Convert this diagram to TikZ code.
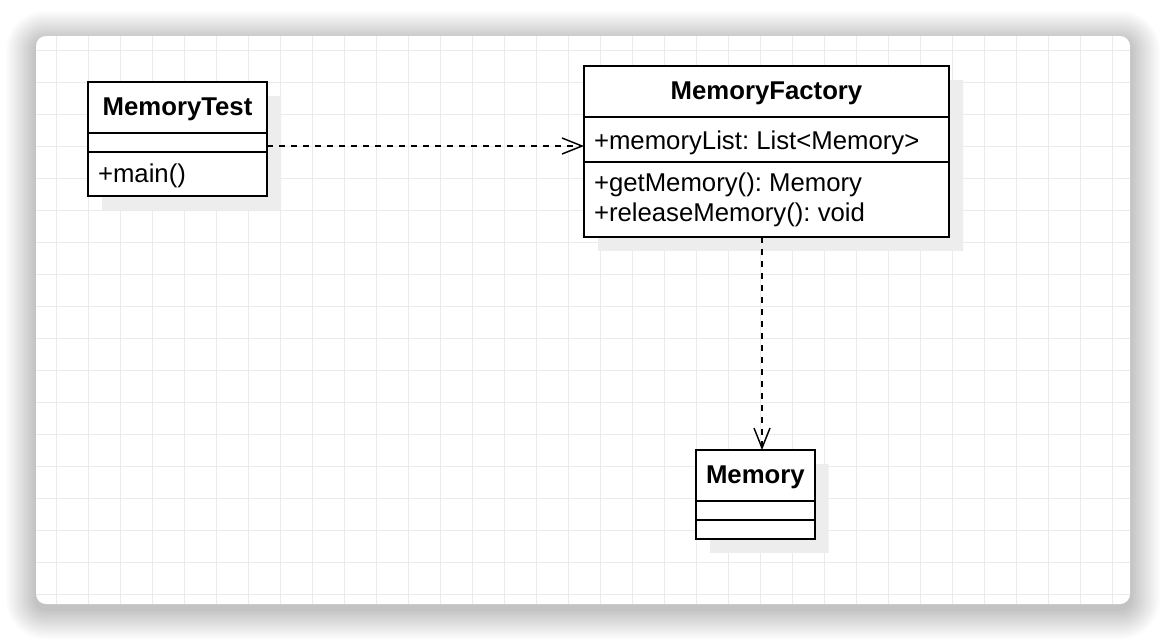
\documentclass[tikz,border=0pt]{standalone}
\usepackage{fontspec}
\setmainfont{Liberation Sans}
\usetikzlibrary{shapes,shadows,arrows.meta}

\newcommand{\classhead}{\rule[-12.56pt]{0pt}{36.56pt}}
\frenchspacing

\begin{document}
\begin{tikzpicture}[x=0.75pt,y=-0.75pt]
  \tikzstyle{umlclass}=[rectangle split, rectangle split parts=3, rectangle split part align={center,left,left},
    draw, fill=white, line width=1.5pt, inner xsep=7.5pt, inner ysep=0pt, outer sep=0pt, anchor=north west,
    font=\fontsize{19.3pt}{22.5pt}\selectfont,
    drop shadow={shadow xshift=10.5pt, shadow yshift=-10.5pt, fill=black!7, opacity=1}]
  \tikzstyle{gridline}=[draw=black!8, line width=0.75pt]
  \tikzstyle{dep}=[line width=1.1pt, dash pattern=on 4.5pt off 4.5pt, -{Straight Barb[length=15pt,width=12pt]}]

  \useasboundingbox (0,0) rectangle (1166,640);
  \fill[white] (0,0) rectangle (1166,640);
  % card shadow, card and grid
  \foreach \s [evaluate=\s as \r using 7.5+1.1*\s] in {1,...,20}
    \fill[black, opacity=0.011, rounded corners=\r pt] ({36-1.5*\s},{41-1.5*\s}) rectangle ({1130+1.5*\s},{609+1.5*\s});
  \fill[white, rounded corners=7.5pt] (36,36) rectangle (1130,604);
  \begin{scope}
    \clip[rounded corners=7.5pt] (36,36) rectangle (1130,604);
    \foreach \gx in {56.7,88.7,...,1120} \draw[gridline] (\gx,36) -- (\gx,604);
    \foreach \gy in {50.7,82.7,...,600} \draw[gridline] (36,\gy) -- (1130,\gy);
  \end{scope}

  % classes
  \node[umlclass, minimum width=134.25pt] (test) at (88,82)
    {\classhead\textbf{MemoryTest}\nodepart{two}\rule{0pt}{13.1pt}%
     \nodepart{three}\rule[-9pt]{0pt}{31.3pt}+main()};
  \node[umlclass, minimum width=273.75pt] (factory) at (584,66)
    {\classhead\textbf{MemoryFactory}\nodepart{two}\rule[-8.8pt]{0pt}{32.6pt}+memoryList: List<Memory>%
     \nodepart{three}\vtop{\baselineskip=22.5pt
       \hbox{\rule{0pt}{21.56pt}+getMemory(): Memory}
       \hbox{\rule[-10.5pt]{0pt}{10.5pt}+releaseMemory(): void}}};
  \node[umlclass, minimum width=88.5pt] (memory) at (696,450)
    {\classhead\textbf{Memory}\nodepart{two}\rule{0pt}{12.6pt}\nodepart{three}\rule{0pt}{12.9pt}};

  % dependencies
  \draw[dep] (test.east |- 0,146) -- (factory.west |- 0,146);
  \draw[dep] (factory.south -| 762,0) -- (memory.north -| 762,0);
\end{tikzpicture}
\end{document}
